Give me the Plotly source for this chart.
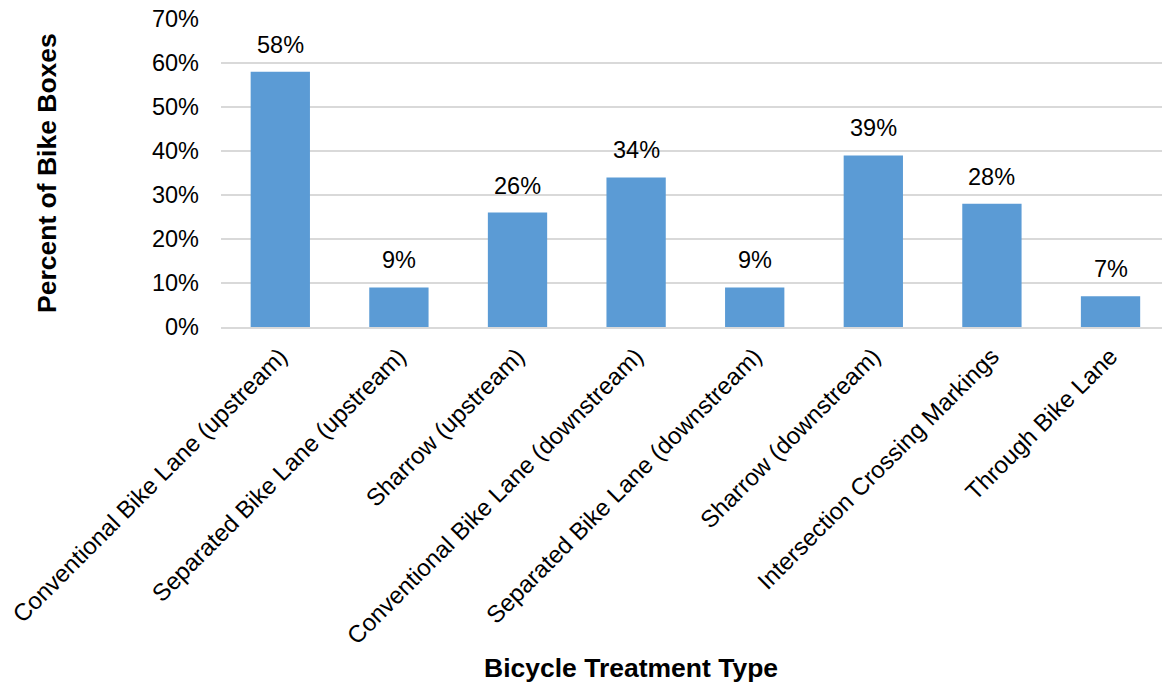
import plotly.graph_objects as go

# Share of bike boxes by adjacent bicycle treatment
treatments = [
    "Conventional Bike Lane (upstream)",
    "Separated Bike Lane (upstream)",
    "Sharrow (upstream)",
    "Conventional Bike Lane (downstream)",
    "Separated Bike Lane (downstream)",
    "Sharrow (downstream)",
    "Intersection Crossing Markings",
    "Through Bike Lane",
]
percent_values = [58, 9, 26, 34, 9, 39, 28, 7]
y_ticks = [0, 10, 20, 30, 40, 50, 60, 70]
y_tick_labels = [f"{v}%" for v in y_ticks]

FONT = "Liberation Sans, Arial, sans-serif"
TICK_SIZE = 23.5
XTICK_SIZE = 24
TITLE_SIZE = 26.5

fig = go.Figure(
    go.Bar(
        x=treatments,
        y=percent_values,
        width=0.5,
        marker=dict(color="#5B9BD5", line=dict(width=0)),
        cliponaxis=False,
    )
)

# Value labels above each bar
for name, v in zip(treatments, percent_values):
    fig.add_annotation(
        x=name, y=v, xref="x", yref="y",
        text=f"{v}%",
        showarrow=False,
        yanchor="bottom",
        yshift=12,
        font=dict(family=FONT, size=TICK_SIZE, color="#000000"),
    )

fig.update_layout(
    width=1162,
    height=686,
    margin=dict(l=221, r=0, t=19, b=359),
    plot_bgcolor="white",
    paper_bgcolor="white",
    showlegend=False,
    font=dict(family=FONT, size=TICK_SIZE, color="#000000"),
)

fig.update_yaxes(
    range=[0, 70],
    tickvals=y_ticks,
    ticktext=y_tick_labels,
    showgrid=True,
    gridcolor="#D9D9D9",
    gridwidth=1.5,
    zeroline=False,
    showline=False,
    ticks="",
    ticklabelstandoff=21,
    tickfont=dict(family=FONT, size=TICK_SIZE, color="#000000"),
    automargin=False,
)

fig.update_xaxes(
    range=[-0.5, 7.434],
    tickangle=-45,
    showline=True,
    linecolor="#D9D9D9",
    linewidth=1.5,
    ticks="",
    ticklabelstandoff=4,
    tickfont=dict(family=FONT, size=XTICK_SIZE, color="#000000"),
    automargin=False,
)

fig.add_annotation(
    text="<b>Percent of Bike Boxes</b>",
    xref="paper", yref="paper",
    x=(47 - 221) / 941, y=(327 - 173) / 308,
    xanchor="center", yanchor="middle",
    textangle=-90,
    showarrow=False,
    font=dict(family=FONT, size=TITLE_SIZE, color="#000000"),
)

fig.add_annotation(
    text="<b>Bicycle Treatment Type</b>",
    xref="paper", yref="paper",
    x=(631 - 221) / 941, y=-(668 - 327) / 308,
    xanchor="center", yanchor="middle",
    showarrow=False,
    font=dict(family=FONT, size=TITLE_SIZE, color="#000000"),
)

fig.write_html("out.html")
